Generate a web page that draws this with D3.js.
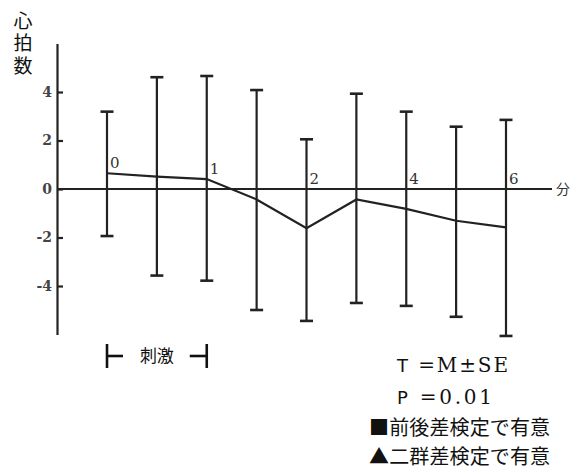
<!DOCTYPE html>
<html><head><meta charset="utf-8">
<script src="https://cdn.jsdelivr.net/npm/d3@7"></script>
<style>body{margin:0;background:#fff}svg{display:block}</style>
</head><body>
<script>
// data
const timeLabels = ["0", "", "1", "", "2", "", "4", "", "6"];
const meanValues = [0.65, 0.51, 0.41, -0.43, -1.62, -0.43, -0.82, -1.31, -1.58];
const upperValues = [3.19, 4.61, 4.66, 4.08, 2.05, 3.93, 3.19, 2.57, 2.85];
const lowerValues = [-1.94, -3.57, -3.78, -4.99, -5.44, -4.70, -4.82, -5.27, -6.06];
const yTicks = [4, 2, 0, -2, -4];
const legendLines = ["T =M±SE", "P =0.01", "■前後差検定で有意", "▲二群差検定で有意"];

const W = 583, H = 474, ink = "#222";
const svg = d3.select("body").append("svg").attr("width", W).attr("height", H);

const idx = d3.range(timeLabels.length);
const x = d3.scalePoint().domain(idx).range([107, 506]);
const y = d3.scaleLinear().domain([-6, 6]).range([334.5, 43.5]);
const axisX = 57;

// y axis
const yAxis = d3.axisLeft(y).tickValues(yTicks).tickSizeInner(-6).tickSizeOuter(0).tickPadding(5)
  .tickFormat(d => d === 0 ? "0" : (d < 0 ? "-" + Math.abs(d) : String(d)));
const ga = svg.append("g").attr("transform", `translate(${axisX},0)`).call(yAxis);
ga.select(".domain").attr("stroke", ink).attr("stroke-width", 2.2);
ga.selectAll(".tick line").attr("stroke", ink).attr("stroke-width", 2.2);
ga.selectAll(".tick text").attr("font-family", "DejaVu Serif").attr("font-size", 14)
  .attr("font-weight", "bold").attr("fill", "#444");

// zero line
svg.append("line").attr("x1", axisX).attr("x2", 552).attr("y1", y(0)).attr("y2", y(0))
  .attr("stroke", ink).attr("stroke-width", 2);

// y title, vertical writing
svg.append("text").attr("x", 23).attr("y", 11)
  .style("writing-mode", "vertical-rl").style("letter-spacing", "3.5px")
  .attr("font-family", "Noto Sans CJK JP").attr("font-size", 19).attr("fill", "#111")
  .text("心拍数");

// x unit
svg.append("text").attr("x", 556).attr("y", y(0) + 5).attr("font-family", "Noto Sans CJK JP")
  .attr("font-size", 14).attr("fill", "#333").text("分");

// error bars
const cap = 6.5;
const eb = svg.append("g").attr("stroke", ink).attr("stroke-width", 2.2);
idx.forEach(i => {
  const cx = x(i);
  eb.append("line").attr("x1", cx).attr("x2", cx).attr("y1", y(upperValues[i])).attr("y2", y(lowerValues[i]));
  eb.append("line").attr("x1", cx - cap).attr("x2", cx + cap).attr("y1", y(upperValues[i])).attr("y2", y(upperValues[i])).attr("stroke-width", 2.6);
  eb.append("line").attr("x1", cx - cap).attr("x2", cx + cap).attr("y1", y(lowerValues[i])).attr("y2", y(lowerValues[i])).attr("stroke-width", 2.6);
});

// mean line
const line = d3.line().x((d, i) => x(i)).y(d => y(d));
svg.append("path").datum(meanValues).attr("d", line).attr("fill", "none")
  .attr("stroke", ink).attr("stroke-width", 2.2);

// time labels
svg.append("g").selectAll("text").data(idx.filter(i => timeLabels[i] !== "")).join("text")
  .attr("x", i => x(i) + 3)
  .attr("y", i => Math.min(y(meanValues[i]), y(0)) - 5)
  .attr("font-family", "DejaVu Serif").attr("font-size", 15).attr("fill", "#333")
  .text(i => timeLabels[i]);

// stimulus bracket (0 to 1 min)
const bx1 = x(0), bx2 = x(2), by = 356;
const br = svg.append("g").attr("stroke", "#111").attr("stroke-width", 2.6);
br.append("line").attr("x1", bx1).attr("x2", bx1).attr("y1", by - 12).attr("y2", by + 12);
br.append("line").attr("x1", bx1).attr("x2", bx1 + 16).attr("y1", by).attr("y2", by);
br.append("line").attr("x1", bx2).attr("x2", bx2).attr("y1", by - 12).attr("y2", by + 12);
br.append("line").attr("x1", bx2 - 17).attr("x2", bx2).attr("y1", by).attr("y2", by);
svg.append("text").attr("x", (bx1 + bx2) / 2).attr("y", by + 6).attr("text-anchor", "middle")
  .attr("font-family", "Noto Sans CJK JP").attr("font-size", 17).attr("fill", "#111").text("刺激");

// legend
const lg = svg.append("g").attr("fill", "#111");
function mixed(text, xPos, yPos, len) {
  const t = lg.append("text").attr("x", xPos).attr("y", yPos).attr("font-size", 20).attr("textLength", len);
  t.append("tspan").attr("font-family", "DejaVu Sans").attr("font-size", 18).text(text.slice(0, 1));
  t.append("tspan").attr("font-family", "DejaVu Serif").text(text.slice(1));
}
mixed(legendLines[0], 397, 372, 111);
mixed(legendLines[1], 397, 404, 95);
lg.append("text").attr("x", 369).attr("y", 435).attr("font-family", "Noto Sans CJK JP").attr("font-size", 20)
  .attr("textLength", 181).text(legendLines[2]);
lg.append("text").attr("x", 369).attr("y", 464).attr("font-family", "Noto Sans CJK JP").attr("font-size", 20)
  .attr("textLength", 181).text(legendLines[3]);
</script>
</body></html>
